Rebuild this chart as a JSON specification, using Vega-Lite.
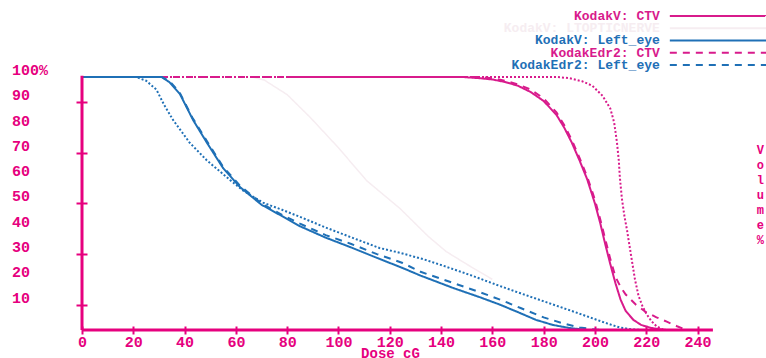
{
  "$schema": "https://vega.github.io/schema/vega-lite/v6.json",
  "width": 684,
  "height": 330,
  "autosize": {"type": "none"},
  "padding": {"left": 82, "top": 0, "right": 0, "bottom": 28},
  "background": "white",
  "config": {
    "view": {"stroke": null},
    "font": "Liberation Mono"
  },
  "datasets": {
    "ctv": [
      {"series": "KodakV: CTV", "dose": 80, "volume": 100},
      {"series": "KodakV: CTV", "dose": 148, "volume": 100},
      {"series": "KodakV: CTV", "dose": 155, "volume": 99.5},
      {"series": "KodakV: CTV", "dose": 160, "volume": 99},
      {"series": "KodakV: CTV", "dose": 165, "volume": 98},
      {"series": "KodakV: CTV", "dose": 170, "volume": 96.5},
      {"series": "KodakV: CTV", "dose": 175, "volume": 94},
      {"series": "KodakV: CTV", "dose": 180, "volume": 90.5},
      {"series": "KodakV: CTV", "dose": 185, "volume": 85},
      {"series": "KodakV: CTV", "dose": 188, "volume": 80},
      {"series": "KodakV: CTV", "dose": 191, "volume": 74},
      {"series": "KodakV: CTV", "dose": 194, "volume": 67},
      {"series": "KodakV: CTV", "dose": 197, "volume": 59.5},
      {"series": "KodakV: CTV", "dose": 200, "volume": 50},
      {"series": "KodakV: CTV", "dose": 202, "volume": 42.5},
      {"series": "KodakV: CTV", "dose": 204, "volume": 34},
      {"series": "KodakV: CTV", "dose": 206, "volume": 26},
      {"series": "KodakV: CTV", "dose": 208, "volume": 18.5},
      {"series": "KodakV: CTV", "dose": 210, "volume": 12},
      {"series": "KodakV: CTV", "dose": 212, "volume": 7.5},
      {"series": "KodakV: CTV", "dose": 215, "volume": 4},
      {"series": "KodakV: CTV", "dose": 218, "volume": 2},
      {"series": "KodakV: CTV", "dose": 222, "volume": 0.8},
      {"series": "KodakV: CTV", "dose": 226, "volume": 0.2},
      {"series": "KodakV: CTV", "dose": 228, "volume": 0},

      {"series": "KodakEdr2: CTV", "dose": 0, "volume": 100},
      {"series": "KodakEdr2: CTV", "dose": 155, "volume": 100},
      {"series": "KodakEdr2: CTV", "dose": 160, "volume": 99.5},
      {"series": "KodakEdr2: CTV", "dose": 165, "volume": 98.5},
      {"series": "KodakEdr2: CTV", "dose": 170, "volume": 97},
      {"series": "KodakEdr2: CTV", "dose": 175, "volume": 95},
      {"series": "KodakEdr2: CTV", "dose": 180, "volume": 91.5},
      {"series": "KodakEdr2: CTV", "dose": 185, "volume": 86},
      {"series": "KodakEdr2: CTV", "dose": 188, "volume": 81},
      {"series": "KodakEdr2: CTV", "dose": 191, "volume": 75},
      {"series": "KodakEdr2: CTV", "dose": 194, "volume": 68},
      {"series": "KodakEdr2: CTV", "dose": 197, "volume": 60.5},
      {"series": "KodakEdr2: CTV", "dose": 200, "volume": 51.5},
      {"series": "KodakEdr2: CTV", "dose": 202, "volume": 44},
      {"series": "KodakEdr2: CTV", "dose": 204, "volume": 36},
      {"series": "KodakEdr2: CTV", "dose": 206, "volume": 28},
      {"series": "KodakEdr2: CTV", "dose": 208, "volume": 21},
      {"series": "KodakEdr2: CTV", "dose": 210, "volume": 17},
      {"series": "KodakEdr2: CTV", "dose": 212, "volume": 14},
      {"series": "KodakEdr2: CTV", "dose": 216, "volume": 10},
      {"series": "KodakEdr2: CTV", "dose": 220, "volume": 7},
      {"series": "KodakEdr2: CTV", "dose": 224, "volume": 5},
      {"series": "KodakEdr2: CTV", "dose": 228, "volume": 3.3},
      {"series": "KodakEdr2: CTV", "dose": 232, "volume": 1.5},
      {"series": "KodakEdr2: CTV", "dose": 235, "volume": 0.3},
      {"series": "KodakEdr2: CTV", "dose": 236, "volume": 0},

      {"series": "KodakXV: CTV", "dose": 0, "volume": 100},
      {"series": "KodakXV: CTV", "dose": 185, "volume": 100},
      {"series": "KodakXV: CTV", "dose": 190, "volume": 99.5},
      {"series": "KodakXV: CTV", "dose": 195, "volume": 98.3},
      {"series": "KodakXV: CTV", "dose": 199, "volume": 96.5},
      {"series": "KodakXV: CTV", "dose": 203, "volume": 92.5},
      {"series": "KodakXV: CTV", "dose": 206, "volume": 87.5},
      {"series": "KodakXV: CTV", "dose": 207.5, "volume": 82},
      {"series": "KodakXV: CTV", "dose": 208.6, "volume": 74},
      {"series": "KodakXV: CTV", "dose": 209.3, "volume": 67},
      {"series": "KodakXV: CTV", "dose": 209.7, "volume": 60.5},
      {"series": "KodakXV: CTV", "dose": 210.5, "volume": 52},
      {"series": "KodakXV: CTV", "dose": 211.5, "volume": 45},
      {"series": "KodakXV: CTV", "dose": 212.5, "volume": 39.5},
      {"series": "KodakXV: CTV", "dose": 214, "volume": 30},
      {"series": "KodakXV: CTV", "dose": 215.6, "volume": 20},
      {"series": "KodakXV: CTV", "dose": 217, "volume": 13.5},
      {"series": "KodakXV: CTV", "dose": 218.5, "volume": 9.5},
      {"series": "KodakXV: CTV", "dose": 220, "volume": 6.5},
      {"series": "KodakXV: CTV", "dose": 222, "volume": 3.5},
      {"series": "KodakXV: CTV", "dose": 224, "volume": 1.5},
      {"series": "KodakXV: CTV", "dose": 226, "volume": 0.4},
      {"series": "KodakXV: CTV", "dose": 227, "volume": 0}
    ],
    "eye": [
      {"series": "KodakV: Left_eye", "dose": 0, "volume": 100},
      {"series": "KodakV: Left_eye", "dose": 31, "volume": 100},
      {"series": "KodakV: Left_eye", "dose": 34, "volume": 98},
      {"series": "KodakV: Left_eye", "dose": 38.2, "volume": 93.2},
      {"series": "KodakV: Left_eye", "dose": 43.3, "volume": 83},
      {"series": "KodakV: Left_eye", "dose": 48.7, "volume": 74},
      {"series": "KodakV: Left_eye", "dose": 55, "volume": 64},
      {"series": "KodakV: Left_eye", "dose": 61.6, "volume": 56.5},
      {"series": "KodakV: Left_eye", "dose": 70, "volume": 49.5},
      {"series": "KodakV: Left_eye", "dose": 78, "volume": 45},
      {"series": "KodakV: Left_eye", "dose": 85, "volume": 41},
      {"series": "KodakV: Left_eye", "dose": 95, "volume": 36.5},
      {"series": "KodakV: Left_eye", "dose": 104.5, "volume": 32.8},
      {"series": "KodakV: Left_eye", "dose": 115, "volume": 28.5},
      {"series": "KodakV: Left_eye", "dose": 125, "volume": 24.5},
      {"series": "KodakV: Left_eye", "dose": 132, "volume": 21.5},
      {"series": "KodakV: Left_eye", "dose": 145, "volume": 16.5},
      {"series": "KodakV: Left_eye", "dose": 155, "volume": 13},
      {"series": "KodakV: Left_eye", "dose": 163, "volume": 10},
      {"series": "KodakV: Left_eye", "dose": 170.8, "volume": 6.7},
      {"series": "KodakV: Left_eye", "dose": 177, "volume": 4},
      {"series": "KodakV: Left_eye", "dose": 183.6, "volume": 2},
      {"series": "KodakV: Left_eye", "dose": 190, "volume": 0.8},
      {"series": "KodakV: Left_eye", "dose": 197, "volume": 0},

      {"series": "KodakEdr2: Left_eye", "dose": 0, "volume": 100},
      {"series": "KodakEdr2: Left_eye", "dose": 31, "volume": 100},
      {"series": "KodakEdr2: Left_eye", "dose": 34, "volume": 98.5},
      {"series": "KodakEdr2: Left_eye", "dose": 38, "volume": 94},
      {"series": "KodakEdr2: Left_eye", "dose": 43, "volume": 84},
      {"series": "KodakEdr2: Left_eye", "dose": 48.5, "volume": 75},
      {"series": "KodakEdr2: Left_eye", "dose": 55, "volume": 64.5},
      {"series": "KodakEdr2: Left_eye", "dose": 61.6, "volume": 57},
      {"series": "KodakEdr2: Left_eye", "dose": 70, "volume": 50},
      {"series": "KodakEdr2: Left_eye", "dose": 78, "volume": 45.5},
      {"series": "KodakEdr2: Left_eye", "dose": 85, "volume": 42},
      {"series": "KodakEdr2: Left_eye", "dose": 95, "volume": 37.5},
      {"series": "KodakEdr2: Left_eye", "dose": 105, "volume": 34},
      {"series": "KodakEdr2: Left_eye", "dose": 115, "volume": 30},
      {"series": "KodakEdr2: Left_eye", "dose": 125, "volume": 26.5},
      {"series": "KodakEdr2: Left_eye", "dose": 132, "volume": 23},
      {"series": "KodakEdr2: Left_eye", "dose": 145, "volume": 18.5},
      {"series": "KodakEdr2: Left_eye", "dose": 155, "volume": 15},
      {"series": "KodakEdr2: Left_eye", "dose": 163, "volume": 12},
      {"series": "KodakEdr2: Left_eye", "dose": 171, "volume": 8.7},
      {"series": "KodakEdr2: Left_eye", "dose": 180, "volume": 5},
      {"series": "KodakEdr2: Left_eye", "dose": 187, "volume": 2.8},
      {"series": "KodakEdr2: Left_eye", "dose": 194, "volume": 1},
      {"series": "KodakEdr2: Left_eye", "dose": 200, "volume": 0.2},
      {"series": "KodakEdr2: Left_eye", "dose": 203, "volume": 0},

      {"series": "KodakXV: Left_eye", "dose": 0, "volume": 100},
      {"series": "KodakXV: Left_eye", "dose": 21, "volume": 100},
      {"series": "KodakXV: Left_eye", "dose": 25, "volume": 98.5},
      {"series": "KodakXV: Left_eye", "dose": 29, "volume": 95},
      {"series": "KodakXV: Left_eye", "dose": 32, "volume": 89},
      {"series": "KodakXV: Left_eye", "dose": 35.5, "volume": 83},
      {"series": "KodakXV: Left_eye", "dose": 42, "volume": 74},
      {"series": "KodakXV: Left_eye", "dose": 48.7, "volume": 67},
      {"series": "KodakXV: Left_eye", "dose": 57.7, "volume": 59.3},
      {"series": "KodakXV: Left_eye", "dose": 63, "volume": 55},
      {"series": "KodakXV: Left_eye", "dose": 70.6, "volume": 50.3},
      {"series": "KodakXV: Left_eye", "dose": 78, "volume": 47.5},
      {"series": "KodakXV: Left_eye", "dose": 85, "volume": 44.7},
      {"series": "KodakXV: Left_eye", "dose": 95, "volume": 40.5},
      {"series": "KodakXV: Left_eye", "dose": 104.5, "volume": 36.8},
      {"series": "KodakXV: Left_eye", "dose": 116, "volume": 32.4},
      {"series": "KodakXV: Left_eye", "dose": 124, "volume": 30.5},
      {"series": "KodakXV: Left_eye", "dose": 133, "volume": 28},
      {"series": "KodakXV: Left_eye", "dose": 142, "volume": 25},
      {"series": "KodakXV: Left_eye", "dose": 152, "volume": 21.5},
      {"series": "KodakXV: Left_eye", "dose": 161.8, "volume": 17.8},
      {"series": "KodakXV: Left_eye", "dose": 171, "volume": 14.5},
      {"series": "KodakXV: Left_eye", "dose": 181, "volume": 11},
      {"series": "KodakXV: Left_eye", "dose": 191, "volume": 7.5},
      {"series": "KodakXV: Left_eye", "dose": 200.8, "volume": 4},
      {"series": "KodakXV: Left_eye", "dose": 205, "volume": 2.5},
      {"series": "KodakXV: Left_eye", "dose": 209.7, "volume": 1},
      {"series": "KodakXV: Left_eye", "dose": 214, "volume": 0.3},
      {"series": "KodakXV: Left_eye", "dose": 218, "volume": 0}
    ],
    "optic": [
      {"series": "KodakV: LTOPTICNERVE", "dose": 66, "volume": 100},
      {"series": "KodakV: LTOPTICNERVE", "dose": 71, "volume": 98.8},
      {"series": "KodakV: LTOPTICNERVE", "dose": 80, "volume": 93},
      {"series": "KodakV: LTOPTICNERVE", "dose": 89, "volume": 84},
      {"series": "KodakV: LTOPTICNERVE", "dose": 100, "volume": 72},
      {"series": "KodakV: LTOPTICNERVE", "dose": 111, "volume": 59},
      {"series": "KodakV: LTOPTICNERVE", "dose": 124, "volume": 48},
      {"series": "KodakV: LTOPTICNERVE", "dose": 135, "volume": 37},
      {"series": "KodakV: LTOPTICNERVE", "dose": 142, "volume": 31},
      {"series": "KodakV: LTOPTICNERVE", "dose": 150, "volume": 26},
      {"series": "KodakV: LTOPTICNERVE", "dose": 160, "volume": 20}
    ],
    "legend": [
      {"series": "KodakV: CTV"},
      {"series": "KodakV: LTOPTICNERVE"},
      {"series": "KodakV: Left_eye"},
      {"series": "KodakEdr2: CTV"},
      {"series": "KodakEdr2: Left_eye"}
    ],
    "ylabels": [
      {"tick": 10, "label": "10"},
      {"tick": 20, "label": "20"},
      {"tick": 30, "label": "30"},
      {"tick": 40, "label": "40"},
      {"tick": 50, "label": "50"},
      {"tick": 60, "label": "60"},
      {"tick": 70, "label": "70"},
      {"tick": 80, "label": "80"},
      {"tick": 90, "label": "90"},
      {"tick": 100, "label": "100%"}
    ]
  },
  "encoding": {
    "color": {
      "field": "series", "type": "nominal", "legend": null,
      "scale": {
        "domain": ["KodakV: CTV", "KodakV: LTOPTICNERVE", "KodakV: Left_eye", "KodakEdr2: CTV", "KodakEdr2: Left_eye", "KodakXV: CTV", "KodakXV: Left_eye"],
        "range": ["#d81b8c", "#f6edf1", "#1f70b6", "#d81b8c", "#1f70b6", "#d81b8c", "#1f70b6"]
      }
    },
    "strokeDash": {
      "field": "series", "type": "nominal", "legend": null,
      "scale": {
        "domain": ["KodakV: CTV", "KodakV: LTOPTICNERVE", "KodakV: Left_eye", "KodakEdr2: CTV", "KodakEdr2: Left_eye", "KodakXV: CTV", "KodakXV: Left_eye"],
        "range": [[1, 0], [1, 0], [1, 0], [7, 6], [7, 6], [2, 2], [2, 2]]
      }
    }
  },
  "layer": [
    {
      "data": {"name": "optic"},
      "mark": {"type": "line", "strokeWidth": 1.5},
      "encoding": {
        "x": {
          "field": "dose", "type": "quantitative",
          "scale": {"domain": [0, 266.7], "nice": false, "zero": false},
          "axis": {
            "values": [0, 20, 40, 60, 80, 100, 120, 140, 160, 180, 200, 220, 240],
            "domain": false, "grid": false, "offset": -4, "tickSize": 8, "tickWidth": 2,
            "tickColor": "#e6007e", "labelColor": "#e6007e", "labelFont": "Liberation Mono",
            "labelFontWeight": "bold", "labelFontSize": 15, "labelPadding": 0, "labelFlush": false,
            "labelOverlap": false,
            "title": "Dose cG", "titleColor": "#e6007e", "titleFont": "Liberation Mono",
            "titleFontWeight": "bold", "titleFontSize": 14, "titleX": 308, "titleY": 27,
            "titleAlign": "center", "titleBaseline": "middle"
          }
        },
        "y": {
          "field": "volume", "type": "quantitative",
          "scale": {"domain": [0, 130.4], "nice": false, "zero": false},
          "axis": {
            "values": [10, 20, 30, 40, 50, 60, 70, 80, 90, 100],
            "labels": false,
            "domain": false, "grid": false, "offset": -5, "tickSize": 11, "tickWidth": 2,
            "tickColor": "#e6007e",
            "title": null
          }
        }
      }
    },
    {
      "data": {"name": "ctv"},
      "mark": {"type": "line", "strokeWidth": 2},
      "encoding": {
        "x": {"field": "dose", "type": "quantitative"},
        "y": {"field": "volume", "type": "quantitative"},
        "strokeWidth": {"condition": {"test": "indexof(datum.series, 'XV') >= 0", "value": 3}, "value": 2}
      }
    },
    {
      "data": {"name": "eye"},
      "mark": {"type": "line", "strokeWidth": 2},
      "encoding": {
        "x": {"field": "dose", "type": "quantitative"},
        "y": {"field": "volume", "type": "quantitative"},
        "strokeWidth": {"condition": {"test": "indexof(datum.series, 'XV') >= 0", "value": 3}, "value": 2}
      }
    },
    {
      "data": {"values": [{}]},
      "mark": {"type": "rule", "color": "#e6007e", "strokeWidth": 3},
      "encoding": {
        "x": {"datum": 0, "type": "quantitative"},
        "y": {"datum": 0, "type": "quantitative"},
        "y2": {"datum": 100.5},
        "color": {"value": "#e6007e"},
        "strokeDash": {"value": [1, 0]}
      }
    },
    {
      "data": {"values": [{}]},
      "mark": {"type": "rule", "color": "#e6007e", "strokeWidth": 3},
      "encoding": {
        "x": {"datum": 0, "type": "quantitative"},
        "x2": {"datum": 246},
        "y": {"datum": 0, "type": "quantitative"},
        "color": {"value": "#e6007e"},
        "strokeDash": {"value": [1, 0]}
      }
    },
    {
      "data": {"name": "ylabels"},
      "mark": {"type": "text", "align": "left", "baseline": "bottom", "dy": 1, "font": "Liberation Mono", "fontWeight": "bold", "fontSize": 15},
      "encoding": {
        "x": {"datum": -27.3, "type": "quantitative"},
        "y": {"field": "tick", "type": "quantitative"},
        "text": {"field": "label"},
        "color": {"value": "#e6007e"},
        "strokeDash": {"value": [1, 0]}
      }
    },
    {
      "data": {"values": [{}]},
      "mark": {
        "type": "text", "text": ["V", "o", "l", "u", "m", "e", "", "%"],
        "lineHeight": 15, "fontSize": 12, "fontWeight": "bold", "font": "Liberation Mono",
        "align": "center", "baseline": "middle"
      },
      "encoding": {
        "x": {"datum": 264.5, "type": "quantitative"},
        "y": {"datum": 71, "type": "quantitative"},
        "color": {"value": "#e6007e"},
        "strokeDash": {"value": [1, 0]}
      }
    },
    {
      "data": {"name": "legend"},
      "mark": {"type": "text", "align": "right", "baseline": "middle", "font": "Liberation Mono", "fontWeight": "bold", "fontSize": 13},
      "encoding": {
        "x": {"datum": 225.3, "type": "quantitative"},
        "y": {"datum": 124.1, "type": "quantitative"},
        "yOffset": {
          "field": "series", "type": "nominal",
          "scale": {"type": "point", "padding": 0, "range": [0, 49],
            "domain": ["KodakV: CTV", "KodakV: LTOPTICNERVE", "KodakV: Left_eye", "KodakEdr2: CTV", "KodakEdr2: Left_eye"]}
        },
        "text": {"field": "series"},
        "strokeDash": {"value": [1, 0]}
      }
    },
    {
      "data": {"name": "legend"},
      "mark": {"type": "rule", "strokeWidth": 2},
      "encoding": {
        "x": {"datum": 229.2, "type": "quantitative"},
        "x2": {"datum": 266.7},
        "y": {"datum": 124.1, "type": "quantitative"},
        "yOffset": {
          "field": "series", "type": "nominal",
          "scale": {"type": "point", "padding": 0, "range": [0, 49],
            "domain": ["KodakV: CTV", "KodakV: LTOPTICNERVE", "KodakV: Left_eye", "KodakEdr2: CTV", "KodakEdr2: Left_eye"]}
        }
      }
    }
  ]
}
